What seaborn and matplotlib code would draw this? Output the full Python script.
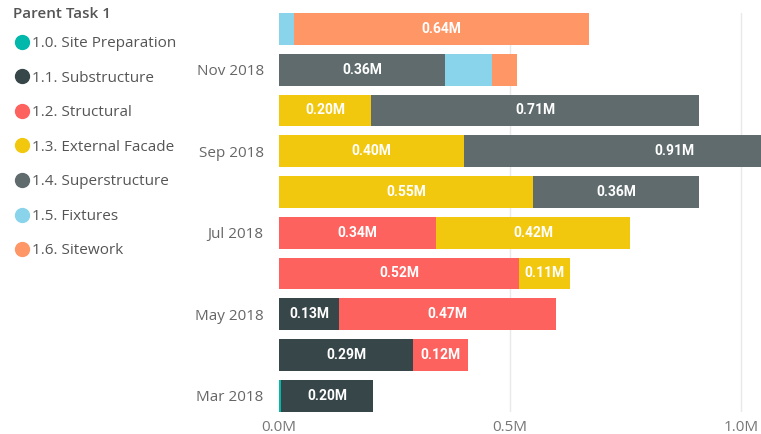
import matplotlib
matplotlib.use("Agg")
import matplotlib.pyplot as plt
from matplotlib.lines import Line2D
import seaborn as sns
import pandas as pd

# Monthly cost (millions) per parent task
months = ["Mar 2018", "Apr 2018", "May 2018", "Jun 2018", "Jul 2018",
          "Aug 2018", "Sep 2018", "Oct 2018", "Nov 2018", "Dec 2018"]
site_preparation = [0.004, 0, 0, 0, 0, 0, 0, 0, 0, 0]
substructure = [0.20, 0.29, 0.13, 0, 0, 0, 0, 0, 0, 0]
structural = [0, 0.12, 0.47, 0.52, 0.34, 0, 0, 0, 0, 0]
external_facade = [0, 0, 0, 0.11, 0.42, 0.55, 0.40, 0.20, 0, 0]
superstructure = [0, 0, 0, 0, 0, 0.36, 0.91, 0.71, 0.36, 0]
fixtures = [0, 0, 0, 0, 0, 0, 0, 0, 0.10, 0.032]
sitework = [0, 0, 0, 0, 0, 0, 0, 0, 0.055, 0.64]

task_names = ["1.0. Site Preparation", "1.1. Substructure", "1.2. Structural",
              "1.3. External Facade", "1.4. Superstructure", "1.5. Fixtures",
              "1.6. Sitework"]
task_values = [site_preparation, substructure, structural, external_facade,
               superstructure, fixtures, sitework]
task_colors = ["#01B8AA", "#374649", "#FD625E", "#F2C80F", "#5F6B6D",
               "#8AD4EB", "#FE9666"]
shown_month_labels = ["Mar 2018", "May 2018", "Jul 2018", "Sep 2018", "Nov 2018"]

sns.set_theme(style="white")
plt.rcParams["font.family"] = ["Open Sans", "DejaVu Sans"]

df = pd.DataFrame({"month": months})
for name, vals in zip(task_names, task_values):
    df[name] = vals
cum = df[task_names].cumsum(axis=1)
order = months[::-1]

W, H = 761, 434
fig = plt.figure(figsize=(W / 100, H / 100), dpi=100)
ax = fig.add_axes([279 / W, 1 - 412 / H, 1 - 279 / W, (412 - 12.7) / H])

# stacked bars: draw cumulative totals from the outermost segment inward
for name, color in reversed(list(zip(task_names, task_colors))):
    sns.barplot(data=pd.DataFrame({"month": months, "v": cum[name]}),
                x="v", y="month", order=order, orient="y", color=color,
                width=0.78, saturation=1, edgecolor="none", linewidth=0,
                ax=ax, zorder=2)

# value labels centred in each segment
for name in task_names:
    left = cum[name] - df[name]
    for i, m in enumerate(months):
        v = df[name][i]
        if v >= 0.11:
            ypos = order.index(m)
            ax.text(left[i] + v / 2, ypos, f"{v:.2f}M", ha="center", va="center",
                    color="white", fontsize=10, fontweight="bold",
                    family=["Roboto", "DejaVu Sans"], zorder=3)

ax.set_xlim(0, (W - 279) / 462)
ax.set_ylim(9.4, -0.4)
ax.set_xlabel("")
ax.set_ylabel("")
ax.set_xticks([0, 0.5, 1.0])
ax.set_xticklabels(["0.0M", "0.5M", "1.0M"])
ax.set_yticks(range(len(order)))
ax.set_yticklabels([m if m in shown_month_labels else "" for m in order])
ax.tick_params(axis="y", length=0, pad=11, labelsize=11, labelcolor="#666666")
ax.tick_params(axis="x", length=0, pad=6, labelsize=11, labelcolor="#777777")
ax.grid(axis="x", color="#E9E9E9", linewidth=1, zorder=0)
ax.xaxis.get_gridlines()[0].set_visible(False)
ax.set_axisbelow(True)
for s in ax.spines.values():
    s.set_visible(False)

# legend: heading plus one coloured dot per task
fig.text(13 / W, 1 - 13.5 / H, "Parent Task 1", ha="left", va="center",
         fontsize=11, fontweight="semibold", color="#555555")
handles = [Line2D([], [], marker="o", linestyle="", color=c, markersize=10)
           for c in task_colors]
leg = fig.legend(handles, task_names, loc="upper left",
                 bbox_to_anchor=(5 / W, 1 - 28.5 / H), frameon=False,
                 fontsize=11, labelspacing=1.28, handletextpad=0.05,
                 handlelength=1.2, borderpad=0.3, borderaxespad=0.2)
for t in leg.get_texts():
    t.set_color("#555555")

fig.savefig("out.png", dpi=100)
